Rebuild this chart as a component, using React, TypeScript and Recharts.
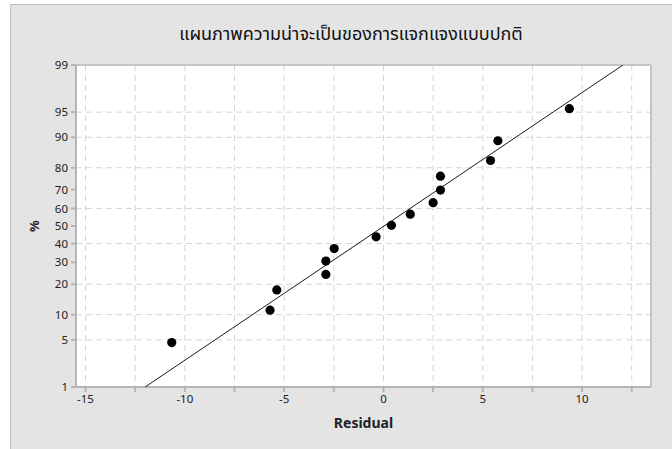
import React from 'react';
import {
  ScatterChart,
  Scatter,
  XAxis,
  YAxis,
  CartesianGrid,
  ReferenceLine,
} from 'recharts';

// ---- data ----
const residuals = [-10.66, -5.71, -5.37, -2.9, -2.9, -2.48, -0.37, 0.4, 1.35, 2.5, 2.87, 2.87, 5.39, 5.76, 9.36];
const percents = [4.6, 11.2, 17.8, 24.2, 30.6, 37.2, 43.8, 50.4, 56.8, 63.2, 69.8, 76.4, 82.8, 89.1, 95.5];

const fitResiduals = [-12.0, 12.06];
const fitPercents = [1, 99];

const xTicks = [-15, -12.5, -10, -7.5, -5, -2.5, 0, 2.5, 5, 7.5, 10, 12.5];
const xLabelTicks = [-15, -10, -5, 0, 5, 10];
const yTickPercents = [1, 5, 10, 20, 30, 40, 50, 60, 70, 80, 90, 95, 99];

const xDomain: [number, number] = [-15.48, 13.47];

// inverse standard normal CDF (Acklam) – for the probability (probit) scale
function probit(p: number): number {
  const a = [-3.969683028665376e1, 2.209460984245205e2, -2.759285104469687e2, 1.38357751867269e2, -3.066479806614716e1, 2.506628277459239];
  const b = [-5.447609879822406e1, 1.615858368580409e2, -1.556989798598866e2, 6.680131188771248e1, -1.328068155288572e1];
  const c = [-7.784894002430293e-3, -3.223964580411365e-1, -2.400758276161838, -2.549732660183655, 4.374664141464968, 2.938163982698783];
  const d = [7.784695709041462e-3, 3.224671290245286e-1, 2.445134137142996, 3.754408661907416];
  const plow = 0.02425;
  if (p < plow) {
    const q = Math.sqrt(-2 * Math.log(p));
    return (((((c[0] * q + c[1]) * q + c[2]) * q + c[3]) * q + c[4]) * q + c[5]) /
      ((((d[0] * q + d[1]) * q + d[2]) * q + d[3]) * q + 1);
  }
  if (p <= 1 - plow) {
    const q = p - 0.5;
    const r = q * q;
    return ((((((a[0] * r + a[1]) * r + a[2]) * r + a[3]) * r + a[4]) * r + a[5]) * q) /
      (((((b[0] * r + b[1]) * r + b[2]) * r + b[3]) * r + b[4]) * r + 1);
  }
  const q = Math.sqrt(-2 * Math.log(1 - p));
  return -(((((c[0] * q + c[1]) * q + c[2]) * q + c[3]) * q + c[4]) * q + c[5]) /
    ((((d[0] * q + d[1]) * q + d[2]) * q + d[3]) * q + 1);
}

const pointData = residuals.map((x, i) => ({ x, z: probit(percents[i] / 100), pct: percents[i] }));
const fitData = fitResiduals.map((x, i) => ({ x, z: probit(fitPercents[i] / 100) }));
const yTicks = yTickPercents.map((p) => probit(p / 100));
const yDomain: [number, number] = [probit(0.01), probit(0.99)];

const FONT = "'Noto Sans', 'DejaVu Sans', sans-serif";

const yLabelFor = (z: number) => {
  let best = yTickPercents[0];
  let bd = Infinity;
  yTickPercents.forEach((p) => {
    const dd = Math.abs(probit(p / 100) - z);
    if (dd < bd) { bd = dd; best = p; }
  });
  return String(best);
};

const Dot = (props: any) => <circle cx={props.cx} cy={props.cy} r={4.6} fill="#000" />;
const NoShape = () => <g />;

export default function App() {
  return (
    <div
      style={{
        position: 'absolute',
        left: 10,
        top: 4,
        width: 662,
        height: 445,
        background: '#e4e4e4',
        boxShadow: 'inset 1px 1px 0 #c2c2c2',
      }}
    >
      <div
        style={{
          position: 'absolute',
          left: 10,
          top: 17,
          width: 662,
          textAlign: 'center',
          fontFamily: "Tahoma, 'Noto Sans Thai', 'Noto Sans', sans-serif",
          fontSize: 18,
          color: '#111',
        }}
      >
        แผนภาพความน่าจะเป็นของการแจกแจงแบบปกติ
      </div>
      <ScatterChart
        width={662}
        height={445}
        margin={{ top: 61, right: 21, bottom: 32, left: 26 }}
        style={{ position: 'absolute', left: 0, top: 0 }}
      >
        <CartesianGrid
          stroke="#d6d6d6"
          strokeDasharray="6 4"
          fill="#ffffff"
          fillOpacity={1}
          horizontalValues={yTicks}
          verticalValues={xTicks}
        />
        <XAxis
          type="number"
          dataKey="x"
          domain={xDomain}
          ticks={xTicks}
          allowDataOverflow
          height={30}
          tickSize={5}
          tickMargin={3}
          stroke="#b5b5b5"
          strokeWidth={2}
          tick={{ fill: '#222', fontSize: 11.5, fontFamily: FONT }}
          tickFormatter={(v: number) => (xLabelTicks.includes(v) ? String(v) : '')}
          label={{
            content: () => (
              <text x={353.5} y={424} textAnchor="middle" fontFamily={FONT} fontSize={14} fontWeight="bold" fill="#222">
                Residual
              </text>
            ),
          }}
        />
        <YAxis
          type="number"
          dataKey="z"
          domain={yDomain}
          ticks={yTicks}
          allowDataOverflow
          width={40}
          tickSize={5}
          tickMargin={3}
          stroke="#b5b5b5"
          strokeWidth={2}
          tick={{ fill: '#222', fontSize: 11.5, fontFamily: FONT }}
          tickFormatter={yLabelFor}
          label={{
            content: () => (
              <text
                x={24}
                y={222}
                textAnchor="middle"
                dominantBaseline="central"
                transform="rotate(-90 24 222)"
                fontFamily={FONT}
                fontSize={13}
                fontWeight="bold"
                fill="#222"
              >
                %
              </text>
            ),
          }}
        />
        <ReferenceLine y={yDomain[1]} stroke="#c4c4c4" strokeWidth={2} />
        <ReferenceLine x={xDomain[1]} stroke="#c4c4c4" strokeWidth={2} />
        <Scatter
          data={fitData}
          line={{ stroke: '#1a1a1a', strokeWidth: 1 }}
          shape={NoShape}
          isAnimationActive={false}
          legendType="none"
        />
        <Scatter data={pointData} shape={Dot} isAnimationActive={false} legendType="none" />
      </ScatterChart>
    </div>
  );
}
